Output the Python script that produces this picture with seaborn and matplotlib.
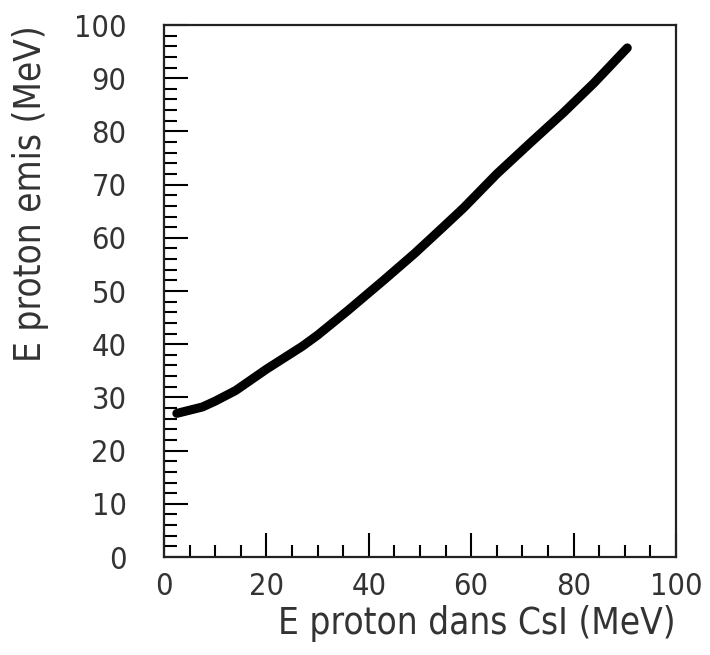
import matplotlib
matplotlib.use("Agg")
import matplotlib.pyplot as plt
import seaborn as sns
import pandas as pd
from matplotlib.ticker import MultipleLocator

# Points read along the centre of the band (MeV)
e_csi = [2.5, 5.0, 7.5, 10.0, 14.0, 20.0, 27.0, 30.0, 36.0, 43.0,
         49.0, 54.5, 58.5, 65.0, 71.5, 78.0, 84.0, 90.5]
e_emis = [27.0, 27.6, 28.2, 29.3, 31.3, 35.3, 39.6, 41.7, 46.4, 52.1,
          57.1, 62.0, 65.6, 72.0, 77.8, 83.5, 89.1, 95.7]

x_ticks = [0, 20, 40, 60, 80, 100]
y_ticks = [0, 10, 20, 30, 40, 50, 60, 70, 80, 90, 100]

x_label = "E proton dans CsI (MeV)"
y_label = "E proton emis (MeV)"

sns.set_theme(style="white")
plt.rcParams['font.family'] = ['DejaVu Sans']
plt.rcParams['font.stretch'] = 'condensed'

df = pd.DataFrame({"csi": e_csi, "emis": e_emis})

fig = plt.figure(figsize=(7.1, 6.55), dpi=100)
ax = fig.add_axes([0.231, 0.1496, 0.721, 0.8122])

sns.lineplot(data=df, x="csi", y="emis", color="black", linewidth=6.5, ax=ax)

ax.set_xlim(0, 100)
ax.set_ylim(0, 100)
ax.set_xticks(x_ticks)
ax.set_yticks(y_ticks)
ax.xaxis.set_minor_locator(MultipleLocator(5))
ax.yaxis.set_minor_locator(MultipleLocator(2))

ax.tick_params(which="both", direction="in", color="black", width=1.5,
               bottom=True, left=True, top=False, right=False)
ax.tick_params(which="major", length=17, labelsize=22, labelcolor="#333333")
ax.tick_params(which="minor", length=9)
ax.tick_params(axis="y", which="major", pad=27)
ax.tick_params(axis="x", which="major", pad=11)

for spine in ax.spines.values():
    spine.set_color("#222222")
    spine.set_linewidth(1.6)

ax.set_xlabel(x_label, loc="right", fontsize=26.5, color="#333333", labelpad=3)
ax.set_ylabel(y_label, loc="top", fontsize=26.5, color="#333333", labelpad=18)
ax.grid(False)

fig.savefig("out.png", dpi=100, facecolor="white")
